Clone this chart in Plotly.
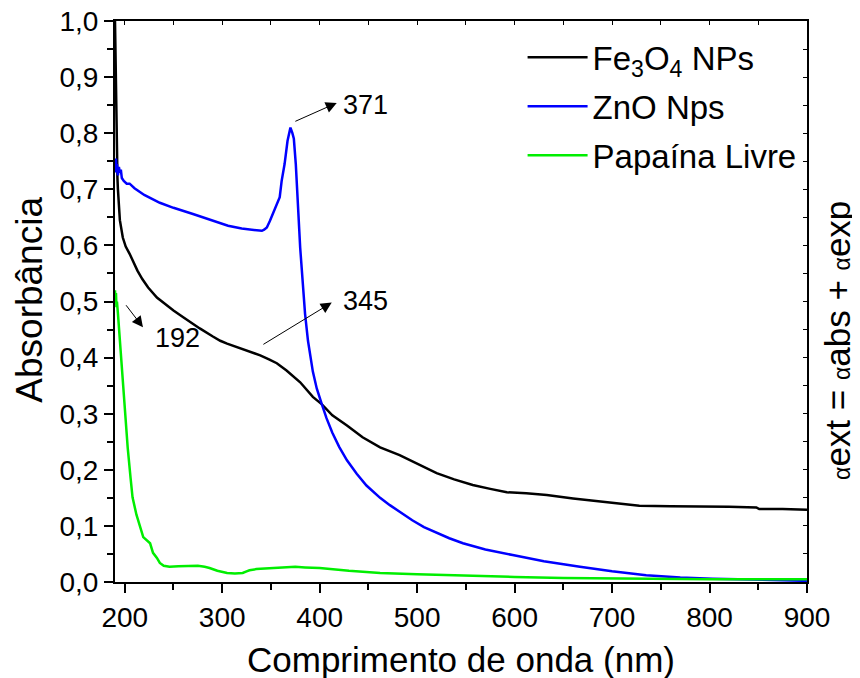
import plotly.graph_objects as go

# ---------------- data ----------------
fe_x = [190, 190.5, 191, 191.7, 192.5, 193, 194, 195, 198, 201, 205, 209, 213, 218, 224, 233, 241, 250,
        260, 270, 277, 290, 298, 305, 318, 328, 339, 348, 356, 366, 380, 393, 402, 413, 428, 444, 462,
        482, 495, 507, 520, 538, 557, 575, 592, 612, 633, 660, 684, 705, 728, 760, 786, 820, 848, 851,
        875, 900]
fe_y = [1.0, 0.93, 0.86, 0.77, 0.72, 0.70, 0.675, 0.645, 0.614, 0.598, 0.585, 0.57, 0.555, 0.54, 0.525,
        0.507, 0.496, 0.484, 0.472, 0.46, 0.452, 0.438, 0.430, 0.425, 0.417, 0.411, 0.404, 0.397, 0.39,
        0.377, 0.356, 0.33, 0.317, 0.297, 0.279, 0.258, 0.24, 0.226, 0.215, 0.205, 0.194, 0.183, 0.173,
        0.166, 0.160, 0.158, 0.155, 0.149, 0.144, 0.140, 0.136, 0.135, 0.134, 0.134, 0.133, 0.130,
        0.130, 0.129]

zno_x = [190, 190.5, 191, 191.5, 192, 193, 194, 195, 196, 197, 199, 202, 205, 210, 220, 236, 250, 270,
         290, 306, 320, 335, 340.7, 343, 345.8, 349, 352, 356, 359, 361, 364, 367, 370, 372, 373.5,
         375.5, 378, 380, 385, 388, 393, 397, 402, 407, 413, 420, 428, 438, 448, 462, 472, 482, 495,
         507, 520, 533, 547, 570, 598, 630, 667, 700, 735, 770, 803, 850, 900]
zno_y = [0.751, 0.73, 0.755, 0.735, 0.745, 0.725, 0.74, 0.73, 0.735, 0.72, 0.715, 0.71, 0.71, 0.702,
         0.69, 0.676, 0.667, 0.656, 0.645, 0.635, 0.63, 0.627, 0.626, 0.628, 0.632, 0.644, 0.657, 0.675,
         0.686, 0.715, 0.745, 0.786, 0.81, 0.80, 0.79, 0.745, 0.67, 0.596, 0.478, 0.43, 0.375, 0.345,
         0.318, 0.292, 0.266, 0.241, 0.217, 0.193, 0.172, 0.150, 0.137, 0.125, 0.110, 0.098, 0.088,
         0.078, 0.069, 0.058, 0.048, 0.037, 0.027, 0.019, 0.012, 0.008, 0.006, 0.004, 0.002]

pap_x = [190, 190.5, 191, 191.5, 192, 193, 195, 198, 200, 203, 206, 208, 212, 216, 219, 226, 229, 233,
         236, 240, 246, 255, 265, 275, 282, 287, 295, 305, 313, 321, 325, 328, 335, 345, 355, 365, 375,
         385, 400, 430, 462, 500, 550, 600, 650, 700, 735, 800, 850, 900]
pap_y = [0.52, 0.50, 0.515, 0.49, 0.50, 0.479, 0.43, 0.36, 0.31, 0.24, 0.185, 0.151, 0.12, 0.098, 0.08,
         0.069, 0.052, 0.043, 0.034, 0.029, 0.027, 0.028, 0.029, 0.029, 0.027, 0.025, 0.02, 0.016,
         0.015, 0.016, 0.019, 0.021, 0.023, 0.024, 0.025, 0.026, 0.027, 0.026, 0.025, 0.02, 0.016,
         0.014, 0.011, 0.009, 0.007, 0.006, 0.005, 0.005, 0.005, 0.005]

series_names = ["Fe<sub>3</sub>O<sub>4</sub> NPs", "ZnO Nps", "Papaína Livre"]
series_colors = ["#000000", "#0000ff", "#00ee00"]

x_ticks = [200, 300, 400, 500, 600, 700, 800, 900]
y_ticks = [0.0, 0.1, 0.2, 0.3, 0.4, 0.5, 0.6, 0.7, 0.8, 0.9, 1.0]

# annotations: label, text position, arrow tail, arrow head
peak_labels = ["371", "345", "192"]
label_pos = [(447, 0.845), (447, 0.496), (254.6, 0.43)]
arrow_tail = [(373.5, 0.820), (340.7, 0.422), (200.2, 0.496)]
arrow_head = [(417.5, 0.854), (412.4, 0.498), (218.7, 0.454)]

FONT = "Liberation Sans, Arial, sans-serif"

fig = go.Figure()
for i, (xs, ys, nm, col) in enumerate(zip([fe_x, zno_x, pap_x], [fe_y, zno_y, pap_y],
                                          series_names, series_colors)):
    fig.add_trace(go.Scatter(x=xs, y=ys, mode="lines", name=nm, legendgroup="g%d" % i,
                             line=dict(color=col, width=2.5)))
# empty trace so the mirror axes (top/right, inward ticks) are drawn
fig.add_trace(go.Scatter(x=[], y=[], xaxis="x2", yaxis="y2", showlegend=False, hoverinfo="skip"))

for lab, (tx, ty), (ax_, ay_), (hx, hy) in zip(peak_labels, label_pos, arrow_tail, arrow_head):
    fig.add_annotation(x=hx, y=hy, ax=ax_, ay=ay_, xref="x", yref="y", axref="x", ayref="y",
                       text="", showarrow=True, arrowhead=2, arrowsize=2.2, arrowwidth=1,
                       arrowcolor="black", standoff=0, startstandoff=0)
    fig.add_annotation(x=tx, y=ty, xref="x", yref="y", text=lab, showarrow=False, yshift=3,
                       font=dict(family=FONT, size=27, color="black"))

# axis titles
fig.add_annotation(x=0.5, y=-0.139, xref="paper", yref="paper", text="Comprimento de onda (nm)",
                   showarrow=False, font=dict(family=FONT, size=35, color="black"),
                   xanchor="center", yanchor="middle")
fig.add_annotation(x=-0.123, y=0.503, xref="paper", yref="paper", text="Absorbância",
                   showarrow=False, textangle=-90, font=dict(family=FONT, size=37, color="black"),
                   xanchor="center", yanchor="middle")
alpha = '<span style="font-size:23px">α</span>'
fig.add_annotation(x=1.045, y=0.43, xref="paper", yref="paper",
                   text=alpha + "ext = " + alpha + "abs + " + alpha + "exp",
                   showarrow=False, textangle=-90, font=dict(family=FONT, size=35, color="black"),
                   xanchor="center", yanchor="middle")

# page body has an 8px margin: figure is sized/offset so the plot lands where the reference has it
fig.update_layout(
    width=852, height=670,
    margin=dict(l=107, r=53, t=13, b=96, autoexpand=False),
    plot_bgcolor="white", paper_bgcolor="white",
    separators=",.",
    font=dict(family=FONT, color="black"),
    showlegend=True,
    legend=dict(x=0.589, y=0.985, xanchor="left", yanchor="top", bgcolor="rgba(0,0,0,0)",
                font=dict(family=FONT, size=33, color="black"), itemwidth=60,
                tracegroupgap=3),
    xaxis=dict(range=[190, 900], tickvals=x_ticks, ticks="outside", ticklen=9, tickwidth=2,
               tickcolor="black", showline=True, linewidth=2, linecolor="black", showgrid=False,
               zeroline=False, tickfont=dict(family=FONT, size=28, color="black"),
               ticklabeloverflow="allow", automargin=False,
               minor=dict(dtick=50, tick0=0, ticks="outside", ticklen=6, tickwidth=2, tickcolor="black")),
    yaxis=dict(range=[0, 1.0], tickvals=y_ticks, tickformat=".1f", ticks="outside", ticklen=9,
               tickwidth=2, tickcolor="black", showline=True, linewidth=2, linecolor="black",
               showgrid=False, zeroline=False, tickfont=dict(family=FONT, size=28, color="black"),
               ticklabeloverflow="allow", automargin=False,
               minor=dict(dtick=0.05, tick0=0, ticks="outside", ticklen=6, tickwidth=2, tickcolor="black")),
    xaxis2=dict(overlaying="x", side="top", range=[190, 900], dtick=50, tick0=0, ticks="inside",
                ticklen=4, tickwidth=1, tickcolor="black", showticklabels=False, showline=True,
                linewidth=2, linecolor="black", showgrid=False, zeroline=False, automargin=False),
    yaxis2=dict(overlaying="y", side="right", range=[0, 1.0], dtick=0.05, tick0=0, ticks="inside",
                ticklen=4, tickwidth=1, tickcolor="black", showticklabels=False, showline=True,
                linewidth=2, linecolor="black", showgrid=False, zeroline=False, automargin=False),
)

fig.write_html("out.html")
